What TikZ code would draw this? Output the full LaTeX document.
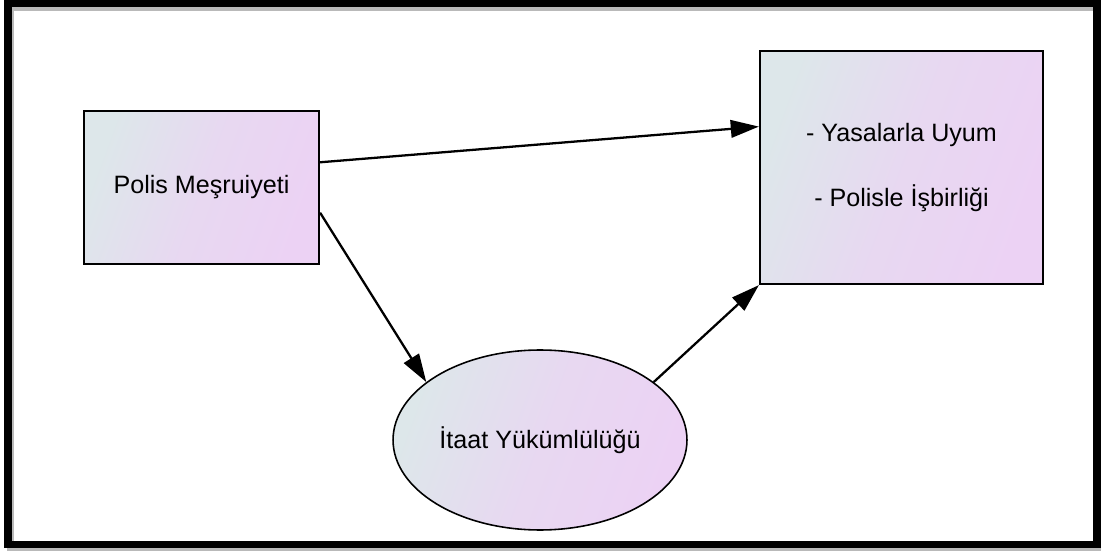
\documentclass[tikz,border=0pt]{standalone}
\usepackage{fontspec}
\setmainfont{Liberation Sans}
\usetikzlibrary{shapes.geometric, arrows.meta}
\definecolor{fillstart}{RGB}{221,231,234}
\definecolor{fillend}{RGB}{236,210,244}
\tikzset{
  kutu/.style={draw=black, line width=1.3pt, rectangle, inner sep=0pt,
    shading=axis, top color=fillstart, bottom color=fillend,
    middle color=fillend!70!fillstart, shading angle=70,
    font=\fontsize{14.3}{17}\selectfont, align=center},
  elips/.style={draw=black, line width=0.9pt, ellipse, inner sep=0pt,
    shading=axis, top color=fillstart, bottom color=fillend,
    middle color=fillend!70!fillstart, shading angle=70,
    font=\fontsize{14.3}{17}\selectfont},
  ok/.style={line width=1.3pt, -{Triangle[length=16pt,width=10pt]}}
}
\begin{document}
\begin{tikzpicture}[x=0.02cm, y=-0.02cm]
      \useasboundingbox (0,0) rectangle (1101,553);
      % frame with shadow
      \draw[gray!55, line width=4.5pt] (10.5,7) rectangle (1099,547.5);
      \draw[black, line width=4.5pt] (8.3,3) rectangle (1097,544.5);

      \node[kutu, minimum width=4.7cm, minimum height=3.06cm] (meshruiyet) at (201.5,187.5) {Polis Meşruiyeti};
      \node[kutu, minimum width=5.66cm, minimum height=4.66cm] (uyum) at (901.5,167.5)
        {- Yasalarla Uyum\\[20pt]- Polisle İşbirliği};
      \node[elips, minimum width=5.88cm, minimum height=3.6cm] (itaat) at (540,440) {İtaat Yükümlülüğü};

      \draw[ok] (meshruiyet.12) -- (uyum.164.4);
      \draw[ok] (meshruiyet.-12.7) -- (itaat.153.6);
      \draw[ok] (itaat.27.6) -- (uyum.south west);
\end{tikzpicture}
\end{document}
